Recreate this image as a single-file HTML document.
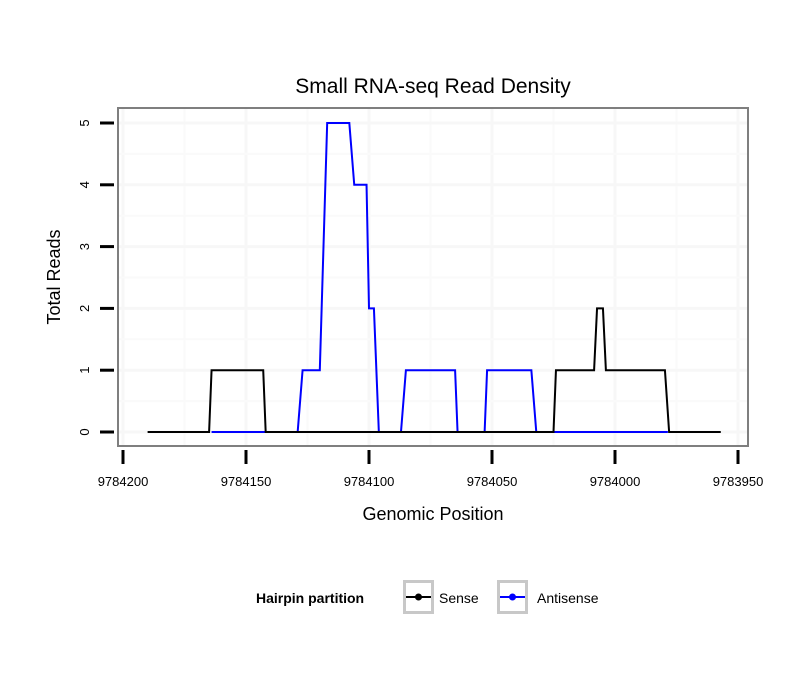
<!DOCTYPE html>
<html><head><meta charset="utf-8"><style>
body{margin:0;background:#fff;width:810px;height:690px;overflow:hidden}
text{font-family:"Liberation Sans",sans-serif}
</style></head><body>
<svg id="chart" width="810" height="690">
<rect x="0" y="0" width="810" height="690" fill="#fff"/>
<text x="433" y="93" font-size="21" text-anchor="middle">Small RNA-seq Read Density</text>
<g id="grid"></g>
<rect x="118" y="108" width="630" height="338" fill="none" stroke="#7f7f7f" stroke-width="2"/>
<g id="series"></g>
<g id="axes"></g>
<text x="433" y="520" font-size="18" text-anchor="middle">Genomic Position</text>
<text transform="translate(60,277) rotate(-90)" font-size="18" text-anchor="middle">Total Reads</text>
<g>
<text x="256" y="603" font-size="14" font-weight="bold">Hairpin partition</text>
<g>
<rect x="404.5" y="581.5" width="28" height="31" fill="#fff" stroke="#c8c8c8" stroke-width="3"/>
<line x1="406" y1="597" x2="431" y2="597" stroke="#000" stroke-width="2"/><circle cx="418.5" cy="597" r="3.5" fill="#000"/>
<text x="439" y="603" font-size="14">Sense</text></g>
<g>
<rect x="498.5" y="581.5" width="28" height="31" fill="#fff" stroke="#c8c8c8" stroke-width="3"/>
<line x1="500" y1="597" x2="525" y2="597" stroke="#00f" stroke-width="2"/><circle cx="512.5" cy="597" r="3.5" fill="#00f"/>
<text x="537" y="603" font-size="14">Antisense</text></g>
</g>
</svg>
<script>
const xTicks=[9784200,9784150,9784100,9784050,9784000,9783950];
const yTicks=[0,1,2,3,4,5];
const senseX=[9784190,9784165,9784164,9784143,9784142,9784025,9784024,9784008.5,9784007.3,9784004.9,9784003.7,9783979.7,9783978,9783957];
const senseY=[0,0,1,1,0,0,1,1,2,2,1,1,0,0];
const antiX=[9784164,9784129,9784127,9784120,9784117,9784108,9784106,9784101,9784100,9784098,9784096,9784087,9784085,9784065,9784064,9784053,9784052,9784034,9784032,9783978.5];
const antiY=[0,0,1,1,5,5,4,4,2,2,0,0,1,1,0,0,1,1,0,0];
const NS="http://www.w3.org/2000/svg";
function xs(v){return 123+(9784200-v)*2.46;}
function ys(v){return 432-v*61.8;}
function mk(tag,attrs,parent){const e=document.createElementNS(NS,tag);for(const k in attrs)e.setAttribute(k,attrs[k]);parent.appendChild(e);return e;}
const grid=document.getElementById('grid'),axes=document.getElementById('axes'),series=document.getElementById('series');
for(let i=0;i<xTicks.length;i++){
  const x=xs(xTicks[i]);
  if(x>118&&x<748){const g=mk('line',{x1:x,x2:x,y1:108,y2:446,stroke:'#f7f7f7','stroke-width':3},grid);
  
  }
  if(i<xTicks.length-1){const xm=xs((xTicks[i]+xTicks[i+1])/2);const g2=mk('line',{x1:xm,x2:xm,y1:108,y2:446,stroke:'#fafafa','stroke-width':2},grid);
  
  }
  const t=mk('line',{x1:x,x2:x,y1:450,y2:464,stroke:'#000','stroke-width':3},axes);
  
  
  const l=mk('text',{x:x,y:486,'font-size':13,'text-anchor':'middle'},axes);l.textContent=xTicks[i];
  
  
}
for(let i=0;i<yTicks.length;i++){
  const y=ys(yTicks[i]);
  const g=mk('line',{x1:118,x2:748,y1:y,y2:y,stroke:'#f7f7f7','stroke-width':3},grid);
  
  
  if(i<yTicks.length-1){const ym=ys(yTicks[i]+0.5);const g2=mk('line',{x1:118,x2:748,y1:ym,y2:ym,stroke:'#fafafa','stroke-width':2},grid);
  
  }
  const t=mk('line',{x1:100,x2:114,y1:y,y2:y,stroke:'#000','stroke-width':3},axes);
  
  
  const l=mk('text',{x:0,y:0,'font-size':13,'text-anchor':'middle',transform:`translate(89,${y}) rotate(-90)`},axes);l.textContent=yTicks[i];
  
  
}
function pts(X,Y){return X.map((v,i)=>xs(v)+','+ys(Y[i])).join(' ');}
const a=mk('polyline',{points:pts(antiX,antiY),fill:'none',stroke:'#00f','stroke-width':2},series);


const s=mk('polyline',{points:pts(senseX,senseY),fill:'none',stroke:'#000','stroke-width':2},series);


</script>
</body></html>
